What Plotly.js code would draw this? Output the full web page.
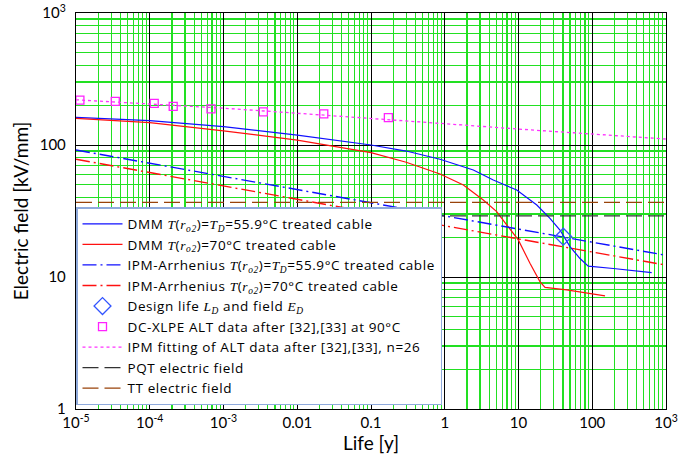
<!DOCTYPE html>
<html>
<head>
<meta charset="utf-8">
<script src="https://cdn.plot.ly/plotly-3.0.1.min.js"></script>
<style>html,body{margin:0;padding:0;background:#fff;}#chart{width:691px;height:456px;}</style>
</head>
<body>
<div id="chart"></div>
<script>
// ---- data ----
const dmm56Life = [1e-5, 1e-4, 1e-3, 0.01, 0.1, 0.3, 0.863, 2.44, 4.55, 9.46, 17.7, 26.7, 36.5, 49.9, 68.2, 88.4, 193, 640];
const dmm56E    = [162, 153, 138, 119, 100, 90, 78, 64.7, 54.3, 45.6, 35.1, 27.8, 22.7, 17.0, 13.8, 12.1, 11.6, 10.8];

const dmm70Life = [1e-5, 1e-4, 1e-3, 0.01, 0.1, 0.3, 0.863, 1.79, 3.33, 5.06, 6.92, 9.93, 14.3, 19.6, 22.9, 45, 149];
const dmm70E    = [159, 147.5, 128, 109, 87.5, 74, 60.3, 49.8, 38.3, 31.3, 24.8, 19.1, 12.7, 9.2, 8.35, 7.98, 7.2];

const decadeLife = [1e-5, 1e-4, 1e-3, 0.01, 0.1, 1, 10, 100, 1000];
const ipm56E     = [91.6, 73, 58, 46, 36.5, 29, 23, 18.3, 14.6];
const ipm70E     = [78, 62, 49, 38.8, 30.7, 24.4, 19.4, 15.4, 12.3];

const designLife = [40.5];
const designE    = [20.2];

const altLife = [1.13e-5, 3.41e-5, 1.15e-4, 2.08e-4, 6.77e-4, 3.47e-3, 0.0229, 0.172];
const altE    = [219, 214, 207, 196, 187.5, 178, 172, 161];

const ipmFitE = [220, 205, 190, 174, 158, 145, 132, 120.5, 111];

const fieldLife = [1e-5, 1000];
const pqtE = [29, 29];
const ttE  = [36.8, 36.8];

const xTickText = ['10<sup>-5</sup>','10<sup>-4</sup>','10<sup>-3</sup>','0.01','0.1','1','10','100','10<sup>3</sup>'];
const yTickVals = [1, 10, 100, 1000];
const yTickText = ['1','10','100','10<sup>3</sup>'];

// ---- helpers ----
function minorVals(d0, d1){ const v=[]; for(let d=d0; d<d1; d++){ for(let k=2;k<=9;k++) v.push(k*Math.pow(10,d)); } return v; }
const M = s => '<span style="font-family:Liberation Serif;font-style:italic">' + s + '</span>';
const T_ro2 = M('T') + '(' + M('r') + '<sub>' + M('o2') + '</sub>)';
const W = s => '<span style="letter-spacing:0.6px">' + s + '</span>';

const traces = [
  {x: dmm56Life, y: dmm56E, mode:'lines', line:{color:'#1010ff', width:1.2},
   name: W('DMM ' + T_ro2 + '=' + M('T') + '<sub>' + M('D') + '</sub>=55.9°C treated cable')},
  {x: dmm70Life, y: dmm70E, mode:'lines', line:{color:'#ff1010', width:1.2},
   name: W('DMM ' + T_ro2 + '=70°C treated cable')},
  {x: decadeLife, y: ipm56E, mode:'lines', line:{color:'#1010ff', width:1.4, dash:'14px,4px,2px,4px'},
   name: W('IPM-Arrhenius ' + T_ro2 + '=' + M('T') + '<sub>' + M('D') + '</sub>=55.9°C treated cable')},
  {x: decadeLife, y: ipm70E, mode:'lines', line:{color:'#ff1010', width:1.4, dash:'14px,4px,2px,4px'},
   name: W('IPM-Arrhenius ' + T_ro2 + '=70°C treated cable')},
  {x: designLife, y: designE, mode:'markers', marker:{symbol:'diamond-open', size:13, color:'#3355ff', line:{width:1.3}},
   name: W('Design life ' + M('L') + '<sub>' + M('D') + '</sub> and field ' + M('E') + '<sub>' + M('D') + '</sub>')},
  {x: altLife, y: altE, mode:'markers', marker:{symbol:'square-open', size:8, color:'#ff22ff', line:{width:1.3}},
   name: W('DC-XLPE ALT data after [32],[33] at 90°C')},
  {x: decadeLife, y: ipmFitE, mode:'lines', line:{color:'#ff33ff', width:1.3, dash:'3px,3px'},
   name: W('IPM fitting of ALT data after [32],[33], n=26')},
  {x: fieldLife, y: pqtE, mode:'lines', line:{color:'#333333', width:1.3, dash:'16px,6px'},
   name: W('PQT electric field')},
  {x: fieldLife, y: ttE, mode:'lines', line:{color:'#99430a', width:1.3, dash:'16px,6px'},
   name: W('TT electric field')}
];

const layout = {
  width: 691, height: 456,
  margin: {l:76, r:25, t:13, b:47},
  paper_bgcolor:'#fff', plot_bgcolor:'#fff',
  font: {family:'Lato, "Liberation Sans", sans-serif', size:15, color:'#000'},
  showlegend: true,
  legend: {x:0, y:0.01, xanchor:'left', yanchor:'bottom', bgcolor:'#fff', bordercolor:'#8faadc', borderwidth:1.5,
           font:{family:'"Open Sans", Lato, sans-serif', size:13.5}, tracegroupgap:0, itemwidth:40},
  xaxis: {type:'log', range:[-5, 3], tickmode:'array', tickvals: decadeLife, ticktext: xTickText,
          showgrid:true, gridcolor:'#000', gridwidth:1, showline:true, mirror:true, linecolor:'#000', linewidth:1.2,
          ticks:'', zeroline:false, tickfont:{size:15},
          minor:{tickmode:'array', tickvals:minorVals(-5,3), showgrid:true, gridcolor:'#22e022', gridwidth:1.2, ticks:''},
          title:{text:'Life [y]', font:{size:19}, standoff:4}},
  yaxis: {type:'log', range:[0, 3], tickmode:'array', tickvals: yTickVals, ticktext: yTickText,
          showgrid:true, gridcolor:'#000', gridwidth:1, showline:true, mirror:true, linecolor:'#000', linewidth:1.2,
          ticks:'', zeroline:false, tickfont:{size:15}, ticklabelstandoff:6,
          minor:{tickmode:'array', tickvals:minorVals(0,3), showgrid:true, gridcolor:'#22e022', gridwidth:1.2, ticks:''},
          title:{text:'Electric field [kV/mm]', font:{size:19}, standoff:6}}
};

Plotly.newPlot('chart', traces, layout, {staticPlot:true, displayModeBar:false});
</script>
</body>
</html>
